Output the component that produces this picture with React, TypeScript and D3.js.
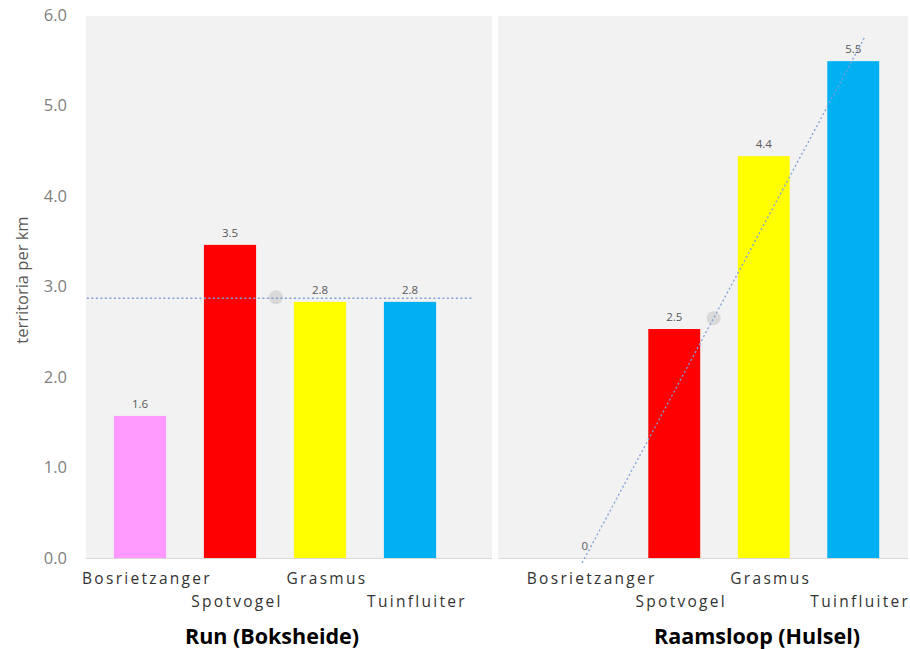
import React from "react";
import * as d3 from "d3";

const categories = ["Bosrietzanger", "Spotvogel", "Grasmus", "Tuinfluiter"];
const colors = ["#ff99ff", "#ff0000", "#ffff00", "#00b0f0"];
const runValues = [1.57, 3.46, 2.83, 2.83];
const raamValues = [0, 2.53, 4.44, 5.49];
const yTicks = [0, 1, 2, 3, 4, 5, 6];
const panelTitles = ["Run (Boksheide)", "Raamsloop (Hulsel)"];
// trend lines in (category index, value) units
const runTrend = [[-0.59, 2.87], [3.69, 2.87]];
const raamTrend = [[-0.03, -0.055], [3.13, 5.76]];
const runMarker = [1.51, 2.88];
const raamMarker = [1.44, 2.65];

const W = 910;
const H = 649;

const y = d3.scaleLinear().domain([0, 6]).range([558, 15]);

const panels = [
  { x0: 86, x1: 492, band: [95, 455], values: runValues, trend: runTrend, marker: runMarker, titleX: 272 },
  { x0: 498, x1: 908, band: [540, 898], values: raamValues, trend: raamTrend, marker: raamMarker, titleX: 757 },
];

const fontFam = "'Open Sans', 'Noto Sans', sans-serif";

function Panel({ p, title }: { p: any; title: string }) {
  const xb = d3.scaleBand<string>().domain(categories).range(p.band as [number, number]).paddingInner(0.42).paddingOuter(0.21);
  const step = xb.step();
  const c0 = (xb(categories[0]) as number) + xb.bandwidth() / 2;
  const xi = d3.scaleLinear().domain([0, 1]).range([c0, c0 + step]);
  const line = d3.line<number[]>().x((d) => xi(d[0])).y((d) => y(d[1]));
  return (
    <g>
      <rect x={p.x0} y={y(6) + 1} width={p.x1 - p.x0} height={y(0) - y(6) - 1} fill="#f2f2f2" />
      <line x1={p.x0} x2={p.x1} y1={y(0) + 0.5} y2={y(0) + 0.5} stroke="#d9d9d9" strokeWidth={1} />
      {categories.map((c, i) => {
        const v = p.values[i];
        const bx = xb(c) as number;
        return (
          <g key={c}>
            {v > 0 && (
              <rect x={bx} y={y(v)} width={xb.bandwidth()} height={y(0) - y(v)} fill={colors[i]} />
            )}
            <text x={bx + xb.bandwidth() / 2} y={y(v) - 8} textAnchor="middle" fontSize={11.5} fill="#595959" fontFamily={fontFam}>
              {v === 0 ? "0" : d3.format(".1f")(v)}
            </text>
            <text
              x={bx + xb.bandwidth() / 2 + 7}
              y={i % 2 === 0 ? 584 : 607}
              textAnchor="middle"
              fontSize={15.5}
              letterSpacing={2.3}
              fill="#333333"
              fontFamily={fontFam}
            >
              {c}
            </text>
          </g>
        );
      })}
      <circle cx={xi(p.marker[0])} cy={y(p.marker[1])} r={7} fill="#d9d9d9" />
      <path d={line(p.trend) as string} fill="none" stroke="#7f9fd9" strokeWidth={1.3} strokeDasharray="2 2.5" />
      <text x={p.titleX} y={644} textAnchor="middle" fontSize={21.5} fontWeight="bold" fill="#000" fontFamily={fontFam}>
        {title}
      </text>
    </g>
  );
}

export default function App() {
  return (
    <svg width={W} height={H} style={{ position: "absolute", left: 0, top: 0, background: "#fff" }}>
      {yTicks.map((t) => (
        <text key={t} x={67} y={y(t) + 5.5} textAnchor="end" fontSize={16.5} fill="#7f7f7f" fontFamily={fontFam}>
          {d3.format(".1f")(t)}
        </text>
      ))}
      <text transform={`translate(28,${280}) rotate(-90)`} textAnchor="middle" fontSize={16.5} fill="#595959" fontFamily={fontFam}>
        territoria per km
      </text>
      {panels.map((p, i) => (
        <Panel key={i} p={p} title={panelTitles[i]} />
      ))}
    </svg>
  );
}
